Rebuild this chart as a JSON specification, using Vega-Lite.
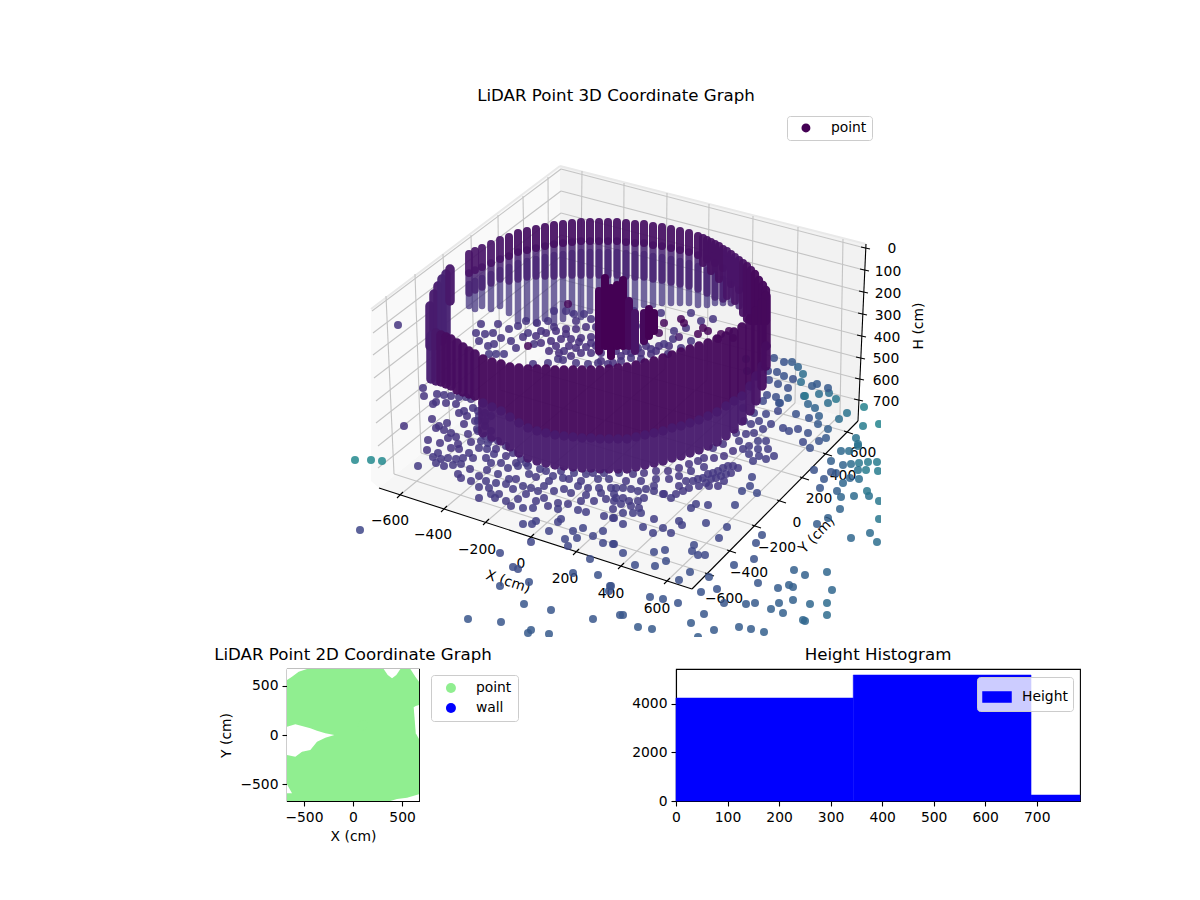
{
"$schema":"https://vega.github.io/schema/vega-lite/v6.json",
"background":"white",
"padding":{"left":213,"top":88,"right":0,"bottom":0},
"config":{
"font":"DejaVu Sans",
"title":{"font":"DejaVu Sans","fontSize":16.67,"fontWeight":"normal","color":"black","offset":5},
"axis":{"labelFont":"DejaVu Sans","labelFontSize":13.89,"labelColor":"black","titleFont":"DejaVu Sans","titleFontSize":13.89,"titleFontWeight":"normal","titleColor":"black","domainColor":"black","tickColor":"black","domainWidth":1.1,"tickWidth":1.1,"tickSize":5,"grid":false,"labelPadding":4,"titlePadding":6,"format":"d","labelFlush":false},
"legend":{"labelFont":"DejaVu Sans","labelFontSize":13.89,"labelColor":"black"}
},
"datasets":{
"grid":[
{"x":399,"y":494,"x2":579,"y2":345},{"x":579,"y":345,"x2":581,"y2":170},
{"x":443,"y":508,"x2":622,"y2":357},{"x":622,"y":357,"x2":623,"y2":182},
{"x":485,"y":521,"x2":664,"y2":368},{"x":664,"y":368,"x2":666,"y2":192},
{"x":530,"y":536,"x2":706,"y2":379},{"x":706,"y":379,"x2":708,"y2":203},
{"x":575,"y":551,"x2":750,"y2":390},{"x":750,"y":390,"x2":752,"y2":215},
{"x":620,"y":565,"x2":794,"y2":402},{"x":794,"y":402,"x2":797,"y2":226},
{"x":666,"y":580,"x2":839,"y2":414},{"x":839,"y":414,"x2":842,"y2":238},
{"x":708,"y":573,"x2":393,"y2":473},{"x":393,"y":473,"x2":385,"y2":295},
{"x":730,"y":550,"x2":420,"y2":452},{"x":420,"y":452,"x2":414,"y2":273},
{"x":755,"y":525,"x2":449,"y2":430},{"x":449,"y":430,"x2":442,"y2":253},
{"x":780,"y":500,"x2":474,"y2":409},{"x":474,"y":409,"x2":470,"y2":234},
{"x":803,"y":477,"x2":499,"y2":389},{"x":499,"y":389,"x2":497,"y2":214},
{"x":826,"y":453,"x2":525,"y2":368},{"x":525,"y":368,"x2":522,"y2":195},
{"x":847,"y":431,"x2":548,"y2":349},{"x":548,"y":349,"x2":547,"y2":176},
{"x":371,"y":310,"x2":560,"y2":168},{"x":560,"y":168,"x2":864,"y2":247},
{"x":372,"y":332,"x2":560,"y2":190},{"x":560,"y":190,"x2":863,"y2":269},
{"x":372,"y":354,"x2":560,"y2":212},{"x":560,"y":212,"x2":862,"y2":291},
{"x":373,"y":377,"x2":560,"y2":234},{"x":560,"y":234,"x2":861,"y2":313},
{"x":375,"y":400,"x2":559,"y2":256},{"x":559,"y":256,"x2":860,"y2":335},
{"x":375,"y":422,"x2":559,"y2":278},{"x":559,"y":278,"x2":859,"y2":357},
{"x":377,"y":445,"x2":559,"y2":300},{"x":559,"y":300,"x2":858,"y2":378},
{"x":377,"y":467,"x2":559,"y2":322},{"x":559,"y":322,"x2":857,"y2":399}
],
"axes":[
{"x":378,"y":487,"x2":691,"y2":588},{"x":691,"y":588,"x2":857,"y2":420},{"x":865,"y":243,"x2":857,"y2":420},
{"x":396,"y":497,"x2":402,"y2":491},{"x":440,"y":511,"x2":446,"y2":505},{"x":482,"y":524,"x2":488,"y2":518},{"x":527,"y":539,"x2":533,"y2":533},{"x":572,"y":554,"x2":578,"y2":548},{"x":617,"y":568,"x2":623,"y2":562},{"x":663,"y":583,"x2":669,"y2":577},
{"x":704,"y":572,"x2":713,"y2":575},{"x":726,"y":549,"x2":735,"y2":552},{"x":751,"y":524,"x2":760,"y2":527},{"x":776,"y":499,"x2":785,"y2":502},{"x":799,"y":476,"x2":808,"y2":479},{"x":822,"y":452,"x2":831,"y2":455},{"x":843,"y":430,"x2":852,"y2":433},
{"x":860,"y":246,"x2":869,"y2":248},{"x":859,"y":268,"x2":868,"y2":270},{"x":858,"y":290,"x2":867,"y2":292},{"x":857,"y":312,"x2":866,"y2":314},{"x":856,"y":334,"x2":865,"y2":336},{"x":855,"y":356,"x2":864,"y2":358},{"x":854,"y":377,"x2":863,"y2":379},{"x":853,"y":398,"x2":862,"y2":400}
],
"ticks":[
{"x":389,"y":520,"t":"−600"},{"x":432,"y":534,"t":"−400"},{"x":476,"y":549,"t":"−200"},{"x":520,"y":563,"t":"0"},{"x":564,"y":578,"t":"200"},{"x":610,"y":593,"t":"400"},{"x":656,"y":608,"t":"600"},
{"x":723,"y":598,"t":"−600"},{"x":748,"y":572,"t":"−400"},{"x":776,"y":547,"t":"−200"},{"x":796,"y":522,"t":"0"},{"x":818,"y":498,"t":"200"},{"x":842,"y":475,"t":"400"},{"x":862,"y":452,"t":"600"},
{"x":891,"y":248,"t":"0"},{"x":887,"y":271,"t":"100"},{"x":887,"y":293,"t":"200"},{"x":887,"y":315,"t":"300"},{"x":886,"y":337,"t":"400"},{"x":885,"y":358,"t":"500"},{"x":885,"y":380,"t":"600"},{"x":885,"y":401,"t":"700"}
],
"backwall":[
{"x":468,"y":283,"y2":305,"c":15},{"x":474,"y":280,"y2":308,"c":15},{"x":481,"y":277,"y2":305,"c":15},{"x":490,"y":273,"y2":308,"c":15},{"x":499,"y":269,"y2":305,"c":15},{"x":508,"y":266,"y2":312,"c":15},{"x":517,"y":262,"y2":320,"c":15},{"x":526,"y":260,"y2":318,"c":15},{"x":535,"y":258,"y2":322,"c":15},{"x":544,"y":256,"y2":318,"c":15},{"x":553,"y":254,"y2":322,"c":15},{"x":562,"y":253,"y2":318,"c":15},{"x":571,"y":252,"y2":312,"c":15},{"x":580,"y":251,"y2":316,"c":15},{"x":589,"y":251,"y2":310,"c":15},{"x":598,"y":251,"y2":310,"c":15},{"x":607,"y":251,"y2":310,"c":15},{"x":616,"y":251,"y2":310,"c":15},{"x":625,"y":252,"y2":306,"c":15},{"x":634,"y":253,"y2":306,"c":15},{"x":643,"y":253,"y2":304,"c":15},{"x":652,"y":255,"y2":304,"c":15},{"x":661,"y":256,"y2":302,"c":15},{"x":670,"y":258,"y2":302,"c":15},{"x":679,"y":260,"y2":302,"c":15},{"x":688,"y":262,"y2":302,"c":15},{"x":697,"y":265,"y2":304,"c":15},{"x":706,"y":269,"y2":304,"c":15},{"x":714,"y":273,"y2":302,"c":15},{"x":722,"y":278,"y2":302,"c":14},{"x":730,"y":283,"y2":302,"c":12},{"x":738,"y":289,"y2":305,"c":10},
{"x":468,"y":272,"y2":292,"c":9},{"x":474,"y":269,"y2":289,"c":9},{"x":481,"y":266,"y2":286,"c":9},{"x":490,"y":262,"y2":282,"c":9},{"x":499,"y":258,"y2":278,"c":9},{"x":508,"y":255,"y2":280,"c":9},{"x":517,"y":251,"y2":278,"c":9},{"x":526,"y":249,"y2":276,"c":9},{"x":535,"y":247,"y2":275,"c":9},{"x":544,"y":245,"y2":275,"c":9},{"x":553,"y":243,"y2":275,"c":9},{"x":562,"y":242,"y2":274,"c":9},{"x":571,"y":241,"y2":274,"c":9},{"x":580,"y":240,"y2":274,"c":9},{"x":589,"y":240,"y2":274,"c":9},{"x":598,"y":240,"y2":274,"c":9},{"x":607,"y":240,"y2":274,"c":9},{"x":616,"y":240,"y2":274,"c":9},{"x":625,"y":241,"y2":275,"c":9},{"x":634,"y":242,"y2":276,"c":9},{"x":643,"y":242,"y2":276,"c":9},{"x":652,"y":244,"y2":278,"c":9},{"x":661,"y":245,"y2":279,"c":9},{"x":670,"y":247,"y2":281,"c":9},{"x":679,"y":249,"y2":283,"c":9},{"x":688,"y":251,"y2":285,"c":9},{"x":697,"y":254,"y2":288,"c":9},{"x":706,"y":258,"y2":292,"c":9},{"x":714,"y":262,"y2":296,"c":9},{"x":722,"y":267,"y2":298,"c":8},
{"x":468,"y":253,"y2":272,"c":5},{"x":474,"y":250,"y2":269,"c":5},{"x":481,"y":247,"y2":266,"c":5},{"x":490,"y":243,"y2":262,"c":5},{"x":499,"y":239,"y2":258,"c":5},{"x":508,"y":236,"y2":255,"c":4},{"x":517,"y":232,"y2":251,"c":4},{"x":526,"y":230,"y2":249,"c":4},{"x":535,"y":228,"y2":247,"c":4},{"x":544,"y":226,"y2":245,"c":4},{"x":553,"y":224,"y2":243,"c":4},{"x":562,"y":223,"y2":242,"c":4},{"x":571,"y":222,"y2":241,"c":4},{"x":580,"y":221,"y2":240,"c":4},{"x":589,"y":221,"y2":240,"c":4},{"x":598,"y":221,"y2":240,"c":4},{"x":607,"y":221,"y2":240,"c":4},{"x":616,"y":221,"y2":240,"c":4},{"x":625,"y":222,"y2":241,"c":4},{"x":634,"y":223,"y2":242,"c":4},{"x":643,"y":223,"y2":242,"c":4},{"x":652,"y":225,"y2":244,"c":4},{"x":661,"y":226,"y2":245,"c":4},{"x":670,"y":228,"y2":247,"c":4},{"x":679,"y":230,"y2":249,"c":4},{"x":688,"y":232,"y2":251,"c":4},{"x":697,"y":235,"y2":254,"c":4},{"x":706,"y":239,"y2":258,"c":4},{"x":714,"y":243,"y2":262,"c":4},{"x":722,"y":248,"y2":267,"c":4},{"x":730,"y":253,"y2":283,"c":4},{"x":738,"y":259,"y2":289,"c":4},
{"x":702,"y":237,"y2":262,"c":4},{"x":710,"y":241,"y2":270,"c":4},{"x":718,"y":245,"y2":278,"c":4},{"x":726,"y":250,"y2":295,"c":5},{"x":734,"y":256,"y2":300,"c":5},{"x":742,"y":262,"y2":312,"c":4},{"x":746,"y":265,"y2":318,"c":3},{"x":750,"y":269,"y2":320,"c":3},{"x":754,"y":273,"y2":320,"c":2},{"x":758,"y":279,"y2":320,"c":2},{"x":762,"y":284,"y2":320,"c":2},{"x":765,"y":289,"y2":320,"c":2}
],
"points":[
{"x":475,"y":332,"c":15},{"x":480,"y":323,"c":15},{"x":478,"y":340,"c":15},{"x":487,"y":345,"c":15},{"x":495,"y":353,"c":16},{"x":503,"y":353,"c":16},{"x":488,"y":353,"c":16},{"x":493,"y":343,"c":15},{"x":492,"y":332,"c":15},{"x":497,"y":323,"c":15},{"x":508,"y":328,"c":15},{"x":510,"y":340,"c":15},{"x":515,"y":347,"c":15},{"x":517,"y":325,"c":15},{"x":525,"y":320,"c":15},{"x":527,"y":332,"c":15},{"x":533,"y":343,"c":15},{"x":547,"y":320,"c":15},{"x":547,"y":362,"c":15},{"x":557,"y":358,"c":15},{"x":562,"y":359,"c":15},{"x":553,"y":310,"c":15},{"x":565,"y":310,"c":15},{"x":573,"y":313,"c":15},{"x":583,"y":313,"c":15},{"x":567,"y":303,"c":2},{"x":527,"y":345,"c":2},{"x":532,"y":363,"c":15},{"x":597,"y":362,"c":14},{"x":607,"y":363,"c":14},{"x":575,"y":362,"c":15},{"x":587,"y":363,"c":15},{"x":563,"y":350,"c":14},
{"x":535,"y":335,"c":13},{"x":545,"y":332,"c":13},{"x":555,"y":330,"c":13},{"x":565,"y":328,"c":13},{"x":575,"y":328,"c":13},{"x":585,"y":326,"c":13},{"x":595,"y":326,"c":13},{"x":540,"y":342,"c":13},{"x":550,"y":340,"c":13},{"x":560,"y":338,"c":13},{"x":570,"y":338,"c":13},{"x":580,"y":337,"c":13},{"x":590,"y":336,"c":13},{"x":600,"y":335,"c":13},{"x":548,"y":350,"c":13},{"x":575,"y":347,"c":13},{"x":585,"y":346,"c":13},{"x":595,"y":345,"c":13},{"x":605,"y":345,"c":13},{"x":615,"y":350,"c":13},{"x":625,"y":350,"c":13},{"x":635,"y":346,"c":13},{"x":645,"y":345,"c":13},
{"x":555,"y":345,"c":13},{"x":568,"y":345,"c":13},{"x":580,"y":352,"c":13},{"x":590,"y":352,"c":13},{"x":600,"y":352,"c":13},{"x":610,"y":355,"c":13},{"x":620,"y":355,"c":13},{"x":630,"y":352,"c":13},{"x":640,"y":352,"c":13},{"x":650,"y":353,"c":13},{"x":658,"y":345,"c":13},{"x":570,"y":355,"c":13},{"x":558,"y":352,"c":13},{"x":600,"y":360,"c":13},{"x":612,"y":362,"c":13},{"x":640,"y":358,"c":13},{"x":655,"y":350,"c":13},{"x":668,"y":345,"c":13},{"x":590,"y":342,"c":13},{"x":578,"y":341,"c":13},{"x":565,"y":333,"c":13},{"x":553,"y":326,"c":14},{"x":540,"y":330,"c":14},{"x":522,"y":336,"c":14},{"x":500,"y":337,"c":15},{"x":484,"y":333,"c":15},{"x":536,"y":322,"c":14},{"x":575,"y":320,"c":14},{"x":590,"y":318,"c":14},
{"x":633,"y":310,"c":15},{"x":642,"y":325,"c":15},{"x":673,"y":330,"c":15},{"x":685,"y":327,"c":15},{"x":690,"y":340,"c":15},{"x":672,"y":338,"c":15},{"x":663,"y":343,"c":15},{"x":650,"y":348,"c":14},{"x":680,"y":347,"c":14},{"x":667,"y":353,"c":14},{"x":643,"y":340,"c":14},{"x":637,"y":347,"c":14},{"x":630,"y":357,"c":14},{"x":620,"y":360,"c":14},{"x":700,"y":320,"c":15},{"x":690,"y":312,"c":15},{"x":712,"y":318,"c":15},{"x":660,"y":312,"c":15},
{"x":680,"y":318,"c":1},{"x":683,"y":322,"c":1},{"x":702,"y":327,"c":1},{"x":707,"y":330,"c":1},{"x":697,"y":333,"c":1},{"x":678,"y":336,"c":8},{"x":658,"y":332,"c":2},{"x":663,"y":322,"c":2},{"x":720,"y":333,"c":1},{"x":728,"y":330,"c":1},{"x":717,"y":338,"c":1},{"x":732,"y":337,"c":1},
{"x":423,"y":395,"c":15},{"x":422,"y":387,"c":15},{"x":431,"y":418,"c":15},{"x":438,"y":425,"c":15},{"x":435,"y":427,"c":15},{"x":446,"y":422,"c":15},{"x":443,"y":429,"c":15},{"x":450,"y":432,"c":15},{"x":458,"y":412,"c":15},{"x":466,"y":415,"c":15},{"x":463,"y":423,"c":15},{"x":467,"y":433,"c":15},{"x":455,"y":436,"c":15},{"x":427,"y":439,"c":15},{"x":439,"y":442,"c":15},{"x":457,"y":443,"c":15},{"x":450,"y":447,"c":15},{"x":458,"y":448,"c":15},{"x":426,"y":449,"c":15},{"x":468,"y":452,"c":16},{"x":478,"y":447,"c":16},{"x":486,"y":448,"c":16},{"x":480,"y":440,"c":16},{"x":487,"y":442,"c":16},{"x":437,"y":452,"c":16},{"x":432,"y":456,"c":16},{"x":440,"y":458,"c":16},{"x":447,"y":457,"c":16},{"x":455,"y":458,"c":16},{"x":462,"y":457,"c":16},{"x":472,"y":457,"c":16},{"x":485,"y":457,"c":16},{"x":493,"y":453,"c":16},{"x":435,"y":462,"c":16},{"x":443,"y":465,"c":16},{"x":452,"y":464,"c":16},{"x":460,"y":463,"c":16},{"x":469,"y":468,"c":16},{"x":486,"y":469,"c":16},{"x":457,"y":473,"c":16},{"x":460,"y":477,"c":16},{"x":497,"y":473,"c":17},{"x":507,"y":467,"c":17},{"x":517,"y":465,"c":17},{"x":527,"y":465,"c":17},{"x":539,"y":468,"c":17},{"x":552,"y":475,"c":17},{"x":562,"y":477,"c":17},{"x":573,"y":472,"c":17},{"x":585,"y":473,"c":17},{"x":597,"y":478,"c":17},{"x":608,"y":478,"c":17},{"x":618,"y":472,"c":17},{"x":528,"y":473,"c":17},{"x":508,"y":478,"c":17},{"x":485,"y":480,"c":17},{"x":495,"y":482,"c":17},{"x":505,"y":483,"c":17},{"x":512,"y":488,"c":17},{"x":522,"y":485,"c":17},{"x":530,"y":487,"c":17},{"x":537,"y":490,"c":17},{"x":543,"y":485,"c":17},{"x":553,"y":490,"c":17},{"x":563,"y":488,"c":17},{"x":577,"y":485,"c":17},{"x":587,"y":487,"c":17},{"x":598,"y":487,"c":17},{"x":610,"y":487,"c":17},{"x":478,"y":486,"c":17},{"x":488,"y":487,"c":17},{"x":490,"y":493,"c":17},{"x":498,"y":493,"c":17},{"x":478,"y":497,"c":17},{"x":494,"y":497,"c":17},{"x":505,"y":500,"c":17},{"x":510,"y":505,"c":17},{"x":517,"y":498,"c":17},{"x":525,"y":493,"c":17},{"x":535,"y":500,"c":17},{"x":543,"y":497,"c":17},{"x":547,"y":505,"c":17},{"x":557,"y":502,"c":17},{"x":567,"y":503,"c":17},{"x":580,"y":500,"c":17},{"x":593,"y":500,"c":17},{"x":605,"y":498,"c":17},{"x":615,"y":497,"c":17},{"x":522,"y":507,"c":18},{"x":532,"y":507,"c":18},{"x":557,"y":508,"c":18},{"x":577,"y":509,"c":18},{"x":585,"y":511,"c":18},{"x":603,"y":515,"c":18},{"x":613,"y":517,"c":18},{"x":535,"y":520,"c":19},{"x":531,"y":523,"c":19},{"x":522,"y":523,"c":19},{"x":557,"y":521,"c":19},{"x":560,"y":518,"c":19},{"x":548,"y":530,"c":20},{"x":572,"y":530,"c":20},{"x":582,"y":527,"c":20},{"x":592,"y":535,"c":20},{"x":602,"y":530,"c":20},{"x":530,"y":541,"c":21},{"x":564,"y":538,"c":21},{"x":576,"y":537,"c":21},{"x":567,"y":545,"c":21},{"x":602,"y":542,"c":21},{"x":612,"y":543,"c":21},{"x":499,"y":552,"c":22},{"x":589,"y":558,"c":23},{"x":512,"y":566,"c":23},{"x":517,"y":568,"c":23},{"x":528,"y":581,"c":25},{"x":499,"y":585,"c":25},{"x":572,"y":572,"c":25},{"x":597,"y":574,"c":25},{"x":609,"y":585,"c":25},{"x":608,"y":590,"c":25},{"x":523,"y":603,"c":27},{"x":550,"y":609,"c":27},{"x":467,"y":618,"c":27},{"x":500,"y":621,"c":27},{"x":592,"y":618,"c":27},{"x":530,"y":629,"c":28},{"x":527,"y":632,"c":28},{"x":548,"y":633,"c":28},{"x":619,"y":614,"c":27},
{"x":436,"y":393,"c":15},{"x":443,"y":394,"c":15},{"x":450,"y":395,"c":15},{"x":458,"y":396,"c":15},{"x":465,"y":396,"c":15},{"x":445,"y":402,"c":15},{"x":435,"y":401,"c":15},{"x":455,"y":403,"c":15},{"x":470,"y":398,"c":15},{"x":432,"y":403,"c":15},{"x":463,"y":410,"c":15},{"x":472,"y":407,"c":15},{"x":478,"y":415,"c":15},{"x":484,"y":420,"c":15},{"x":476,"y":428,"c":15},{"x":477,"y":410,"c":15},{"x":484,"y":412,"c":15},{"x":490,"y":415,"c":15},{"x":477,"y":420,"c":15},{"x":484,"y":425,"c":15},{"x":490,"y":430,"c":15},{"x":477,"y":430,"c":15},{"x":484,"y":435,"c":15},{"x":490,"y":438,"c":15},{"x":497,"y":440,"c":15},{"x":505,"y":445,"c":15},{"x":512,"y":452,"c":15},{"x":520,"y":458,"c":15},{"x":495,"y":448,"c":15},{"x":505,"y":455,"c":15},{"x":515,"y":462,"c":16},{"x":525,"y":462,"c":16},{"x":500,"y":462,"c":16},{"x":490,"y":462,"c":16},{"x":535,"y":476,"c":16},{"x":545,"y":470,"c":16},{"x":560,"y":470,"c":16},{"x":568,"y":478,"c":16},{"x":580,"y":480,"c":16},{"x":592,"y":472,"c":16},{"x":603,"y":472,"c":16},{"x":515,"y":478,"c":16},{"x":478,"y":475,"c":16},{"x":470,"y":480,"c":16},{"x":570,"y":492,"c":17},{"x":585,"y":494,"c":17},{"x":600,"y":492,"c":17},{"x":548,"y":480,"c":17},{"x":470,"y":441,"c":15},{"x":447,"y":437,"c":15},{"x":474,"y":420,"c":15},
{"x":354,"y":459,"c":47},{"x":370,"y":459,"c":47},{"x":381,"y":460,"c":47},{"x":359,"y":529,"c":21},{"x":403,"y":425,"c":15},{"x":417,"y":465,"c":17},
{"x":615,"y":487,"c":17},{"x":622,"y":487,"c":17},{"x":630,"y":488,"c":17},{"x":637,"y":490,"c":17},{"x":645,"y":488,"c":17},{"x":653,"y":490,"c":17},{"x":662,"y":493,"c":17},{"x":670,"y":497,"c":17},{"x":613,"y":493,"c":17},{"x":622,"y":497,"c":17},{"x":628,"y":500,"c":17},{"x":637,"y":500,"c":17},{"x":643,"y":497,"c":17},{"x":613,"y":500,"c":17},{"x":620,"y":503,"c":17},{"x":630,"y":505,"c":17},{"x":638,"y":507,"c":17},{"x":612,"y":508,"c":17},{"x":622,"y":512,"c":18},{"x":632,"y":512,"c":18},{"x":640,"y":512,"c":18},{"x":653,"y":518,"c":18},{"x":612,"y":517,"c":18},{"x":622,"y":523,"c":19},{"x":642,"y":526,"c":19},{"x":652,"y":532,"c":19},{"x":662,"y":527,"c":19},{"x":670,"y":532,"c":19},{"x":678,"y":520,"c":19},{"x":681,"y":524,"c":19},{"x":690,"y":507,"c":19},{"x":695,"y":503,"c":19},{"x":707,"y":504,"c":19},{"x":705,"y":522,"c":20},{"x":726,"y":526,"c":21},{"x":718,"y":537,"c":21},{"x":734,"y":504,"c":21},{"x":741,"y":490,"c":21},{"x":749,"y":485,"c":21},{"x":756,"y":492,"c":22},{"x":751,"y":476,"c":20},{"x":693,"y":544,"c":22},{"x":691,"y":550,"c":22},{"x":697,"y":554,"c":22},{"x":704,"y":554,"c":22},{"x":613,"y":543,"c":21},{"x":622,"y":552,"c":22},{"x":653,"y":551,"c":22},{"x":664,"y":549,"c":22},{"x":665,"y":560,"c":23},{"x":654,"y":565,"c":23},{"x":634,"y":564,"c":23},{"x":689,"y":571,"c":24},{"x":678,"y":579,"c":24},{"x":708,"y":576,"c":25},{"x":700,"y":591,"c":26},{"x":716,"y":588,"c":26},{"x":723,"y":602,"c":27},{"x":649,"y":596,"c":26},{"x":662,"y":598,"c":26},{"x":677,"y":602,"c":26},{"x":622,"y":614,"c":27},{"x":703,"y":613,"c":27},{"x":690,"y":622,"c":28},{"x":637,"y":626,"c":28},{"x":651,"y":628,"c":28},{"x":713,"y":629,"c":28},{"x":738,"y":626,"c":29},{"x":750,"y":628,"c":29},{"x":763,"y":631,"c":30},{"x":697,"y":636,"c":29},{"x":610,"y":585,"c":25},
{"x":761,"y":534,"c":24},{"x":755,"y":542,"c":24},{"x":753,"y":558,"c":25},{"x":733,"y":564,"c":25},{"x":757,"y":582,"c":27},{"x":777,"y":587,"c":29},{"x":745,"y":603,"c":28},{"x":754,"y":602,"c":28},{"x":778,"y":602,"c":30},{"x":770,"y":608,"c":30},{"x":782,"y":612,"c":30},{"x":792,"y":599,"c":31},{"x":788,"y":584,"c":30},{"x":792,"y":586,"c":30},{"x":793,"y":569,"c":30},{"x":804,"y":574,"c":31},{"x":826,"y":571,"c":33},{"x":831,"y":589,"c":33},{"x":809,"y":603,"c":33},{"x":826,"y":602,"c":35},{"x":826,"y":614,"c":35},{"x":802,"y":619,"c":33},{"x":804,"y":620,"c":33},{"x":816,"y":523,"c":29},{"x":827,"y":517,"c":31},{"x":850,"y":537,"c":33},{"x":869,"y":532,"c":35},{"x":876,"y":541,"c":36},{"x":839,"y":508,"c":32},{"x":840,"y":496,"c":33},{"x":853,"y":495,"c":35},{"x":868,"y":495,"c":37},{"x":866,"y":490,"c":40},{"x":878,"y":500,"c":40},{"x":878,"y":518,"c":40},
{"x":819,"y":487,"c":27},{"x":836,"y":490,"c":30},{"x":813,"y":469,"c":25},{"x":823,"y":478,"c":27},{"x":830,"y":460,"c":30},{"x":830,"y":471,"c":27},{"x":835,"y":472,"c":28},{"x":842,"y":464,"c":32},{"x":850,"y":463,"c":36},{"x":858,"y":462,"c":40},{"x":840,"y":450,"c":34},{"x":848,"y":450,"c":36},{"x":857,"y":443,"c":38},{"x":867,"y":461,"c":42},{"x":876,"y":461,"c":42},{"x":865,"y":469,"c":42},{"x":877,"y":470,"c":42},{"x":857,"y":469,"c":38},{"x":849,"y":477,"c":32},{"x":842,"y":482,"c":33},{"x":858,"y":478,"c":36},{"x":878,"y":423,"c":45},{"x":862,"y":425,"c":42},{"x":863,"y":406,"c":44},{"x":846,"y":412,"c":38},{"x":838,"y":418,"c":36},{"x":855,"y":437,"c":38},{"x":857,"y":445,"c":38},
{"x":737,"y":467,"c":16},{"x":732,"y":465,"c":16},{"x":727,"y":465,"c":16},{"x":722,"y":467,"c":16},{"x":717,"y":470,"c":16},{"x":712,"y":472,"c":16},{"x":707,"y":473,"c":16},{"x":702,"y":477,"c":16},{"x":697,"y":478,"c":16},{"x":692,"y":480,"c":16},{"x":685,"y":480,"c":16},{"x":678,"y":485,"c":16},{"x":730,"y":472,"c":16},{"x":725,"y":473,"c":16},{"x":720,"y":475,"c":16},{"x":715,"y":477,"c":16},{"x":710,"y":478,"c":16},{"x":705,"y":482,"c":16},{"x":698,"y":485,"c":16},{"x":723,"y":480,"c":16},{"x":717,"y":485,"c":16},{"x":708,"y":485,"c":16},{"x":688,"y":487,"c":16},{"x":682,"y":490,"c":16},{"x":675,"y":493,"c":16},{"x":663,"y":493,"c":16},{"x":653,"y":485,"c":16},{"x":723,"y":455,"c":15},{"x":713,"y":457,"c":15},{"x":722,"y":443,"c":15},{"x":712,"y":447,"c":15},{"x":703,"y":457,"c":15},{"x":697,"y":460,"c":15},{"x":688,"y":463,"c":15},{"x":678,"y":467,"c":15},{"x":667,"y":470,"c":15},{"x":655,"y":470,"c":15},{"x":643,"y":472,"c":15},{"x":632,"y":473,"c":15},{"x":625,"y":480,"c":16},{"x":640,"y":480,"c":16},{"x":655,"y":478,"c":16},{"x":668,"y":478,"c":16},{"x":678,"y":475,"c":16},{"x":690,"y":470,"c":16},{"x":703,"y":466,"c":16},{"x":732,"y":450,"c":15},{"x":735,"y":432,"c":15},
{"x":773,"y":455,"c":18},{"x":765,"y":458,"c":18},{"x":758,"y":455,"c":18},{"x":752,"y":460,"c":18},{"x":748,"y":453,"c":18},{"x":757,"y":448,"c":18},{"x":767,"y":448,"c":18},{"x":765,"y":440,"c":18},{"x":757,"y":440,"c":18},{"x":748,"y":445,"c":17},{"x":742,"y":448,"c":17},{"x":738,"y":440,"c":17},{"x":745,"y":433,"c":17},{"x":753,"y":432,"c":17},{"x":762,"y":428,"c":18},{"x":770,"y":423,"c":19},{"x":750,"y":423,"c":17},{"x":758,"y":420,"c":18},{"x":743,"y":420,"c":17},{"x":742,"y":407,"c":17},{"x":753,"y":412,"c":18},{"x":765,"y":413,"c":20},{"x":777,"y":410,"c":21},{"x":782,"y":427,"c":21},{"x":788,"y":430,"c":22},{"x":797,"y":428,"c":22},{"x":807,"y":432,"c":24},{"x":802,"y":441,"c":22},{"x":809,"y":447,"c":24},{"x":818,"y":440,"c":26},{"x":825,"y":437,"c":28},{"x":827,"y":428,"c":30},{"x":817,"y":423,"c":28},{"x":808,"y":417,"c":26},{"x":818,"y":415,"c":30},{"x":807,"y":403,"c":32},{"x":814,"y":407,"c":32},{"x":795,"y":413,"c":25},{"x":778,"y":402,"c":25},{"x":787,"y":397,"c":28},{"x":803,"y":395,"c":32},{"x":827,"y":402,"c":36},{"x":818,"y":393,"c":36},{"x":828,"y":392,"c":36},
{"x":773,"y":357,"c":24},{"x":783,"y":361,"c":26},{"x":791,"y":361,"c":28},{"x":776,"y":371,"c":24},{"x":767,"y":370,"c":22},{"x":783,"y":375,"c":26},{"x":797,"y":366,"c":32},{"x":802,"y":373,"c":36},{"x":792,"y":378,"c":24},{"x":800,"y":381,"c":36},{"x":777,"y":383,"c":24},{"x":768,"y":379,"c":22},{"x":811,"y":385,"c":28},{"x":816,"y":383,"c":28},{"x":827,"y":387,"c":28},{"x":835,"y":398,"c":40},{"x":804,"y":395,"c":40},{"x":787,"y":387,"c":24},{"x":775,"y":396,"c":24},{"x":766,"y":394,"c":22},{"x":779,"y":402,"c":26},{"x":762,"y":400,"c":22},{"x":745,"y":358,"c":30},{"x":746,"y":370,"c":30}
],
"spire":[
{"x":598,"y":290,"y2":350,"c":1},{"x":604,"y":277,"y2":345,"c":0},{"x":610,"y":287,"y2":355,"c":0},{"x":616,"y":284,"y2":345,"c":0},{"x":622,"y":279,"y2":345,"c":0},{"x":628,"y":300,"y2":345,"c":2},{"x":634,"y":312,"y2":350,"c":5},{"x":643,"y":312,"y2":340,"c":2},{"x":648,"y":308,"y2":335,"c":0},{"x":653,"y":312,"y2":330,"c":0}
],
"front":[
{"x":429,"y":305,"y2":345,"c":7},{"x":433,"y":293,"y2":345,"c":7},{"x":437,"y":285,"y2":340,"c":7},{"x":441,"y":278,"y2":340,"c":9},{"x":445,"y":273,"y2":332,"c":9},{"x":449,"y":268,"y2":300,"c":6},
{"x":430,"y":335,"y2":378,"c":8},{"x":435,"y":332,"y2":380,"c":6},{"x":440,"y":334,"y2":381,"c":4},{"x":445,"y":336,"y2":383,"c":3},{"x":450,"y":338,"y2":385,"c":3},{"x":456,"y":342,"y2":389,"c":3},{"x":462,"y":346,"y2":391,"c":3},{"x":468,"y":350,"y2":393,"c":3},{"x":474,"y":353,"y2":395,"c":3},
{"x":482,"y":358,"y2":402,"c":2},{"x":491,"y":361,"y2":406,"c":2},{"x":500,"y":363,"y2":410,"c":2},{"x":509,"y":366,"y2":416,"c":2},{"x":518,"y":367,"y2":422,"c":2},{"x":527,"y":368,"y2":427,"c":2},{"x":536,"y":368,"y2":430,"c":2},{"x":545,"y":368,"y2":432,"c":2},{"x":554,"y":369,"y2":434,"c":2},{"x":563,"y":369,"y2":435,"c":2},{"x":572,"y":369,"y2":436,"c":2},{"x":581,"y":369,"y2":437,"c":2},{"x":590,"y":369,"y2":437,"c":2},{"x":599,"y":369,"y2":438,"c":2},{"x":608,"y":368,"y2":438,"c":2},{"x":617,"y":367,"y2":438,"c":2},{"x":626,"y":366,"y2":438,"c":2},{"x":635,"y":364,"y2":436,"c":2},{"x":644,"y":362,"y2":434,"c":2},{"x":653,"y":360,"y2":432,"c":2},{"x":662,"y":357,"y2":430,"c":2},{"x":671,"y":354,"y2":427,"c":2},{"x":680,"y":351,"y2":425,"c":2},{"x":689,"y":348,"y2":422,"c":2},{"x":698,"y":345,"y2":419,"c":2},{"x":707,"y":342,"y2":415,"c":2},{"x":716,"y":338,"y2":411,"c":2},{"x":725,"y":335,"y2":405,"c":2},{"x":733,"y":331,"y2":400,"c":2},{"x":741,"y":326,"y2":395,"c":2},{"x":749,"y":318,"y2":385,"c":2},{"x":755,"y":310,"y2":375,"c":2},{"x":761,"y":302,"y2":365,"c":2},{"x":765,"y":295,"y2":345,"c":2},
{"x":482,"y":402,"y2":432,"c":7},{"x":491,"y":406,"y2":436,"c":7},{"x":500,"y":410,"y2":440,"c":7},{"x":509,"y":416,"y2":446,"c":7},{"x":518,"y":422,"y2":452,"c":7},{"x":527,"y":427,"y2":457,"c":7},{"x":536,"y":430,"y2":460,"c":7},{"x":545,"y":432,"y2":462,"c":7},{"x":554,"y":434,"y2":464,"c":7},{"x":563,"y":435,"y2":465,"c":7},{"x":572,"y":436,"y2":466,"c":7},{"x":581,"y":437,"y2":467,"c":7},{"x":590,"y":437,"y2":467,"c":7},{"x":599,"y":438,"y2":468,"c":7},{"x":608,"y":438,"y2":468,"c":7},{"x":617,"y":438,"y2":468,"c":7},{"x":626,"y":438,"y2":468,"c":7},{"x":635,"y":436,"y2":466,"c":7},{"x":644,"y":434,"y2":464,"c":7},{"x":653,"y":432,"y2":462,"c":7},{"x":662,"y":430,"y2":460,"c":7},{"x":671,"y":427,"y2":457,"c":7},{"x":680,"y":425,"y2":455,"c":7},{"x":689,"y":422,"y2":452,"c":7},{"x":698,"y":419,"y2":449,"c":7},{"x":707,"y":415,"y2":445,"c":7},{"x":716,"y":411,"y2":441,"c":7},{"x":725,"y":405,"y2":435,"c":7},{"x":733,"y":400,"y2":428,"c":7},{"x":741,"y":395,"y2":420,"c":7},{"x":749,"y":385,"y2":410,"c":6},{"x":755,"y":375,"y2":400,"c":5},{"x":761,"y":365,"y2":385,"c":4},{"x":765,"y":345,"y2":365,"c":3}
],
"gaps":[
{"g":"a","x":-673,"y":85,"y2":-204},{"g":"a","x":-588,"y":109,"y2":-221},{"g":"a","x":-520,"y":92,"y2":-170},{"g":"a","x":-435,"y":68,"y2":-153},{"g":"a","x":-367,"y":44,"y2":-68},{"g":"a","x":-282,"y":17,"y2":-27},{"g":"a","x":-190,"y":0,"y2":0},
{"g":"b","x":-673,"y":673,"y2":561},{"g":"b","x":-622,"y":673,"y2":595},{"g":"b","x":-554,"y":673,"y2":646},{"g":"b","x":-469,"y":673,"y2":673},
{"g":"c","x":313,"y":673,"y2":673},{"g":"c","x":354,"y":673,"y2":612},{"g":"c","x":398,"y":673,"y2":578},{"g":"c","x":442,"y":673,"y2":612},{"g":"c","x":483,"y":673,"y2":673},
{"g":"d","x":585,"y":673,"y2":673},{"g":"d","x":636,"y":673,"y2":595},{"g":"d","x":673,"y":673,"y2":544},
{"g":"e","x":619,"y":282,"y2":282},{"g":"e","x":640,"y":296,"y2":17},{"g":"e","x":673,"y":306,"y2":-41},
{"g":"f","x":-673,"y":-503,"y2":-595},{"g":"f","x":-622,"y":-595,"y2":-595},
{"g":"g","x":381,"y":-673,"y2":-673},{"g":"g","x":449,"y":-653,"y2":-673},{"g":"g","x":551,"y":-639,"y2":-673},{"g":"g","x":673,"y":-605,"y2":-673}
]
},
"vconcat":[
{
"width":594,"height":531,
"view":{"stroke":null},
"title":{"text":"LiDAR Point 3D Coordinate Graph","anchor":"middle","dx":32,"offset":1},
"encoding":{
"x":{"field":"x","type":"quantitative","scale":{"domain":[286,880]},"axis":null},
"y":{"field":"y","type":"quantitative","scale":{"domain":[636,105]},"axis":null},
"color":{"field":"c","type":"quantitative","scale":{"scheme":"viridis","domain":[0,100]},"legend":null}
},
"layer":[
{"data":{"values":[{"x":370,"y":308,"y2":480},{"x":378,"y":302,"y2":487},{"x":559,"y":165,"y2":340}]},"mark":{"type":"area"},"encoding":{"y2":{"field":"y2"},"color":{"value":"#f9f9f9"}}},
{"data":{"values":[{"x":559,"y":165,"y2":340},{"x":857,"y":241,"y2":420},{"x":865,"y":243,"y2":243}]},"mark":{"type":"area"},"encoding":{"y2":{"field":"y2"},"color":{"value":"#f2f2f2"}}},
{"data":{"values":[{"x":378,"y":487,"y2":487},{"x":559,"y":340,"y2":545},{"x":691,"y":375,"y2":588},{"x":857,"y":420,"y2":420}]},"mark":{"type":"area"},"encoding":{"y2":{"field":"y2"},"color":{"value":"#f6f6f6"}}},
{"data":{"values":[{"x":370,"y":308,"x2":559,"y2":165},{"x":559,"y":165,"x2":865,"y2":243}]},"mark":{"type":"rule","strokeWidth":2},"encoding":{"x2":{"field":"x2"},"y2":{"field":"y2"},"color":{"value":"#e9e9e9"}}},
{"data":{"name":"grid"},"mark":{"type":"rule","strokeWidth":1.1},"encoding":{"x2":{"field":"x2"},"y2":{"field":"y2"},"color":{"value":"#c4c4c4"}}},
{"data":{"name":"axes"},"mark":{"type":"rule","strokeWidth":1.1},"encoding":{"x2":{"field":"x2"},"y2":{"field":"y2"},"color":{"value":"black"}}},
{"data":{"name":"ticks"},"mark":{"type":"text","fontSize":13.89,"font":"DejaVu Sans"},"encoding":{"text":{"field":"t"},"color":{"value":"black"}}},
{"data":{"values":[{"x":507,"y":581}]},"mark":{"type":"text","fontSize":13.89,"font":"DejaVu Sans","angle":18,"text":"X (cm)"},"encoding":{"color":{"value":"black"}}},
{"data":{"values":[{"x":816,"y":534}]},"mark":{"type":"text","fontSize":13.89,"font":"DejaVu Sans","angle":-46,"text":"Y (cm)"},"encoding":{"color":{"value":"black"}}},
{"data":{"values":[{"x":918,"y":325}]},"mark":{"type":"text","fontSize":13.89,"font":"DejaVu Sans","angle":-90,"text":"H (cm)"},"encoding":{"color":{"value":"black"}}},
{"data":{"name":"backwall"},"mark":{"type":"rule","strokeCap":"round","clip":true},"encoding":{"y2":{"field":"y2"},"opacity":{"field":"c","type":"quantitative","scale":{"domain":[0,15],"range":[1,0.75]},"legend":null},"size":{"field":"c","type":"quantitative","scale":{"domain":[4,15],"range":[8,6.5]},"legend":null}}},
{"data":{"name":"points"},"mark":{"type":"circle","size":64,"opacity":0.85,"clip":true}},
{"data":{"name":"spire"},"mark":{"type":"rule","strokeWidth":8,"strokeCap":"round","opacity":1,"clip":true},"encoding":{"y2":{"field":"y2"}}},
{"data":{"name":"front"},"mark":{"type":"rule","strokeWidth":9.5,"strokeCap":"round","opacity":0.96,"clip":true},"encoding":{"y2":{"field":"y2"}}},
{"data":{"values":[{"x":397,"y":324,"c":15,"s":"point"}]},"mark":{"type":"point","filled":true,"size":64,"opacity":0.85,"clip":true},"encoding":{"shape":{"field":"s","type":"nominal","scale":{"range":["circle"]},"legend":{"title":null,"orient":"none","legendX":500,"legendY":10,"fillColor":"white","strokeColor":"#cccccc","cornerRadius":3,"padding":5,"symbolSize":55,"symbolFillColor":"#440154","symbolStrokeColor":"#440154","symbolOpacity":1,"symbolOffset":7,"labelOffset":18,"zindex":1}}}}
]
},
{
"hconcat":[
{
"width":132,"height":132,
"view":{"stroke":"black","strokeWidth":1.1},
"title":"LiDAR Point 2D Coordinate Graph",
"encoding":{
"x":{"field":"x","type":"quantitative","title":"X (cm)","scale":{"domain":[-673,673]},"axis":{"values":[-500,0,500]}},
"y":{"field":"y","type":"quantitative","title":"Y (cm)","scale":{"domain":[-673,673]},"axis":{"values":[-500,0,500]}}
},
"layer":[
{"data":{"values":[{"x":-673,"y":673,"y2":-673},{"x":673,"y":673,"y2":-673}]},"mark":{"type":"area","color":"#90ee90"},"encoding":{"y2":{"field":"y2"}}},
{"data":{"name":"gaps"},"mark":{"type":"area","color":"white"},"encoding":{"y2":{"field":"y2"},"detail":{"field":"g"}}},
{"data":{"values":[{"x":100,"y":100,"s":"point"}]},"mark":{"type":"circle","size":100,"opacity":1},"encoding":{"color":{"field":"s","type":"nominal","scale":{"domain":["point","wall"],"range":["#90ee90","#0000ff"]},"legend":{"title":null,"orient":"none","legendX":144,"legendY":6,"fillColor":"white","strokeColor":"#cccccc","cornerRadius":3,"padding":6,"symbolType":"circle","symbolSize":100,"symbolOffset":7,"labelOffset":18,"rowPadding":5,"symbolOpacity":1}}}}
]
},
{
"width":404,"height":132,
"view":{"stroke":"black","strokeWidth":1.1},
"title":"Height Histogram",
"data":{"values":[{"lo":0,"hi":344,"n":4247,"s":"Height"},{"lo":344,"hi":689,"n":5196,"s":"Height"},{"lo":689,"hi":784,"n":247,"s":"Height"}]},
"mark":{"type":"bar","stroke":"#0000ff","strokeWidth":0.5},
"encoding":{
"x":{"field":"lo","type":"quantitative","title":null,"scale":{"domain":[0,784]},"axis":{"values":[0,100,200,300,400,500,600,700]}},
"x2":{"field":"hi"},
"y":{"field":"n","type":"quantitative","title":null,"scale":{"domain":[0,5443]},"axis":{"values":[0,2000,4000]}},
"y2":{"datum":0},
"color":{"field":"s","type":"nominal","scale":{"range":["#0000ff"]},"legend":{"title":null,"orient":"none","legendX":301,"legendY":8,"fillColor":"rgba(255,255,255,0.8)","strokeColor":"#cccccc","cornerRadius":3,"padding":5,"symbolType":"M-1,-0.36H1V0.36H-1Z","symbolSize":784,"labelOffset":10,"zindex":1}}
}
}
],
"spacing":111,
"resolve":{"scale":{"color":"independent"}}
}
],
"spacing":9
}
